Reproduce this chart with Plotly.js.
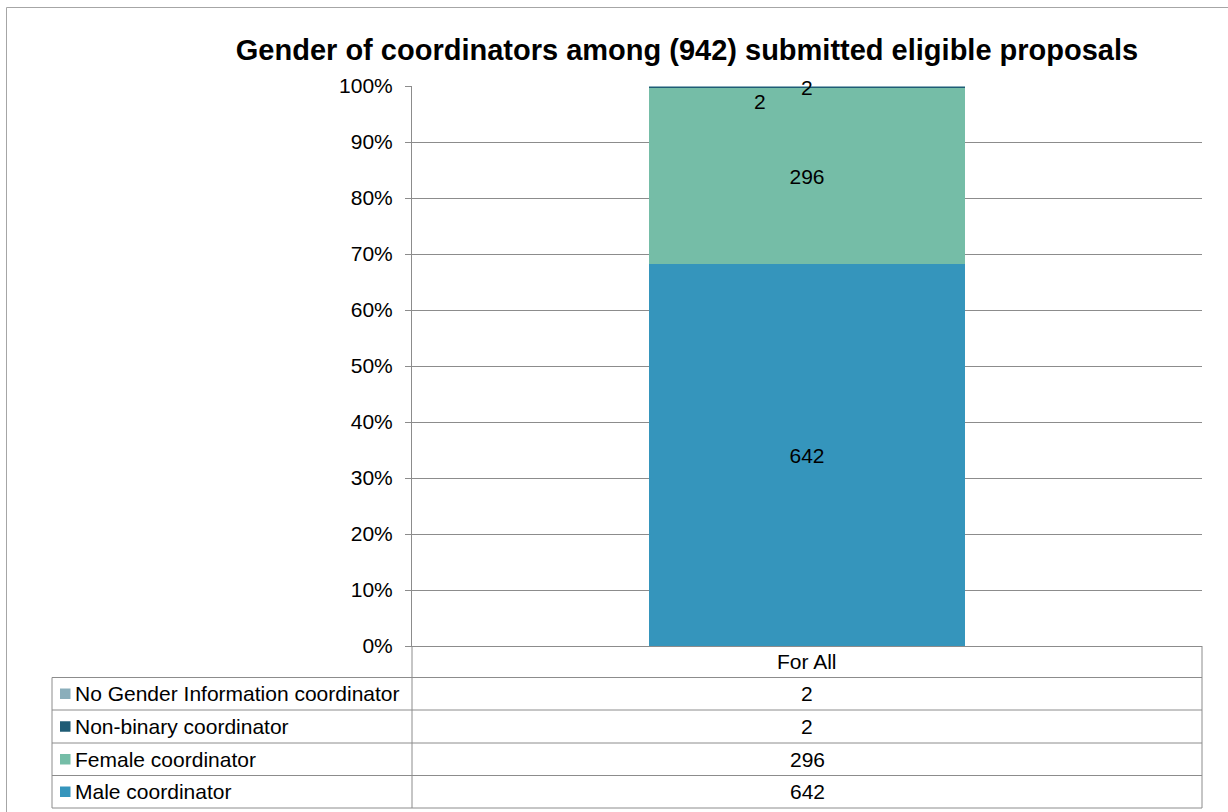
<!DOCTYPE html>
<html>
<head>
<meta charset="utf-8">
<script src="https://cdn.plot.ly/plotly-3.0.1.min.js"></script>
<style>
  html, body { margin: 0; padding: 0; background: #ffffff; }
  #chart { width: 1228px; height: 812px; }
</style>
</head>
<body>
<div id="chart"></div>
<script>
// ---------- data ----------
const categories = ['For All'];
const seriesNames = ['Male coordinator', 'Female coordinator', 'Non-binary coordinator', 'No Gender Information coordinator'];
const maleValues = [642];
const femaleValues = [296];
const nonBinaryValues = [2];
const noGenderValues = [2];
const yTickValues = [0, 10, 20, 30, 40, 50, 60, 70, 80, 90, 100];
const chartTitle = 'Gender of coordinators among (942) submitted eligible proposals';

// ---------- styles ----------
const seriesColors = ['#3595BC', '#75BDA7', '#1F5C75', '#8AAEBB'];
const FONT = 'Liberation Sans, Arial, Helvetica, sans-serif';
const FS = 21;
const GRID = '#8c8c8c';
const W = 1228, H = 812;
const L = 412, R = 1202, T = 86, B = 646;
const px = x => (x - L) / (R - L);
const py = y => (B - y) / (B - T);

const allSeries = [maleValues, femaleValues, nonBinaryValues, noGenderValues];

const traces = allSeries.map((vals, i) => ({
  type: 'bar',
  name: seriesNames[i],
  x: categories,
  y: vals,
  marker: { color: seriesColors[i], line: { width: 0 } },
  text: i < 2 ? vals.map(String) : undefined,
  textposition: i < 2 ? 'inside' : 'none',
  insidetextanchor: 'middle',
  textangle: 0,
  textfont: { family: FONT, size: FS, color: '#000000' },
  hoverinfo: 'name+y'
}));

// cumulative percentages for the small labels
const total = allSeries.reduce((s, a) => s + a[0], 0);
const cum = [];
let acc = 0;
allSeries.forEach(a => { cum.push(acc); acc += a[0]; });
const midPct = i => (cum[i] + allSeries[i][0] / 2) / total * 100;

const annotations = [];
annotations.push({
  xref: 'x', yref: 'y', x: categories[0], y: midPct(2),
  text: String(nonBinaryValues[0]), showarrow: false,
  xshift: -47, yshift: -14,
  font: { family: FONT, size: FS, color: '#000' }
});
annotations.push({
  xref: 'x', yref: 'y', x: categories[0], y: midPct(3),
  text: String(noGenderValues[0]), showarrow: false,
  xshift: 0, yshift: -1,
  font: { family: FONT, size: FS, color: '#000' }
});

// ---------- data table ----------
const shapes = [];
const lineStyle = { color: GRID, width: 1 };
shapes.push({ type: 'rect', xref: 'paper', yref: 'paper', x0: px(6.5), x1: px(1250), y0: py(7.5), y1: py(840), line: { color: '#a6a6a6', width: 1 } });

const rowYs = [677.5, 710, 743, 775.5, 808];
rowYs.forEach(y => shapes.push({ type: 'line', xref: 'paper', yref: 'paper', x0: px(52), x1: px(R), y0: py(y), y1: py(y), line: lineStyle }));
shapes.push({ type: 'line', xref: 'paper', yref: 'paper', x0: px(52), x1: px(52), y0: py(677.5), y1: py(808), line: lineStyle });
shapes.push({ type: 'line', xref: 'paper', yref: 'paper', x0: px(L), x1: px(L), y0: py(B), y1: py(808), line: lineStyle });
shapes.push({ type: 'line', xref: 'paper', yref: 'paper', x0: px(R), x1: px(R), y0: py(B), y1: py(808), line: lineStyle });

annotations.push({
  xref: 'paper', yref: 'paper', x: px((L + R) / 2), y: py((B + 677.5) / 2),
  xanchor: 'center', yanchor: 'middle', text: categories[0], showarrow: false,
  font: { family: FONT, size: FS, color: '#000' }
});

const order = [3, 2, 1, 0];
order.forEach((si, r) => {
  const yTop = rowYs[r], yBot = rowYs[r + 1];
  const yc = (yTop + yBot) / 2;
  shapes.push({ type: 'rect', xref: 'paper', yref: 'paper', x0: px(60), x1: px(70.5), y0: py(yc - 5.25), y1: py(yc + 5.25), fillcolor: seriesColors[si], line: { width: 0 } });
  annotations.push({
    xref: 'paper', yref: 'paper', x: px(73), y: py(yc), xanchor: 'left', yanchor: 'middle',
    text: seriesNames[si], showarrow: false, font: { family: FONT, size: FS, color: '#000' }
  });
  annotations.push({
    xref: 'paper', yref: 'paper', x: px((L + R) / 2), y: py(yc), xanchor: 'center', yanchor: 'middle',
    text: String(allSeries[si][0]), showarrow: false, font: { family: FONT, size: FS, color: '#000' }
  });
});

const layout = {
  width: W, height: H,
  margin: { l: L, r: W - R, t: T, b: H - B, pad: 0 },
  paper_bgcolor: '#ffffff', plot_bgcolor: '#ffffff',
  barmode: 'stack', barnorm: 'percent', bargap: 0.6,
  showlegend: false,
  font: { family: FONT, size: FS, color: '#000' },
  title: {
    text: '<b>' + chartTitle + '</b>',
    font: { family: FONT, size: 29, color: '#000' },
    xref: 'paper', x: px(687), xanchor: 'center',
    yref: 'container', y: 1 - 50 / H, yanchor: 'middle'
  },
  xaxis: {
    type: 'category', range: [-0.5, 0.5],
    showticklabels: false, ticks: '', showgrid: false,
    showline: true, linecolor: GRID, linewidth: 1, zeroline: false, fixedrange: true
  },
  yaxis: {
    range: [0, 100], tickvals: yTickValues, ticktext: yTickValues.map(v => v + '%'),
    showgrid: true, gridcolor: GRID, gridwidth: 1,
    showline: true, linecolor: GRID, linewidth: 1,
    ticks: 'outside', ticklen: 6, tickcolor: GRID, tickwidth: 1,
    ticklabelstandoff: 8,
    tickfont: { family: FONT, size: FS, color: '#000' },
    zeroline: false, fixedrange: true
  },
  shapes: shapes,
  annotations: annotations
};

Plotly.newPlot('chart', traces, layout, { displayModeBar: false, staticPlot: true });
</script>
</body>
</html>
